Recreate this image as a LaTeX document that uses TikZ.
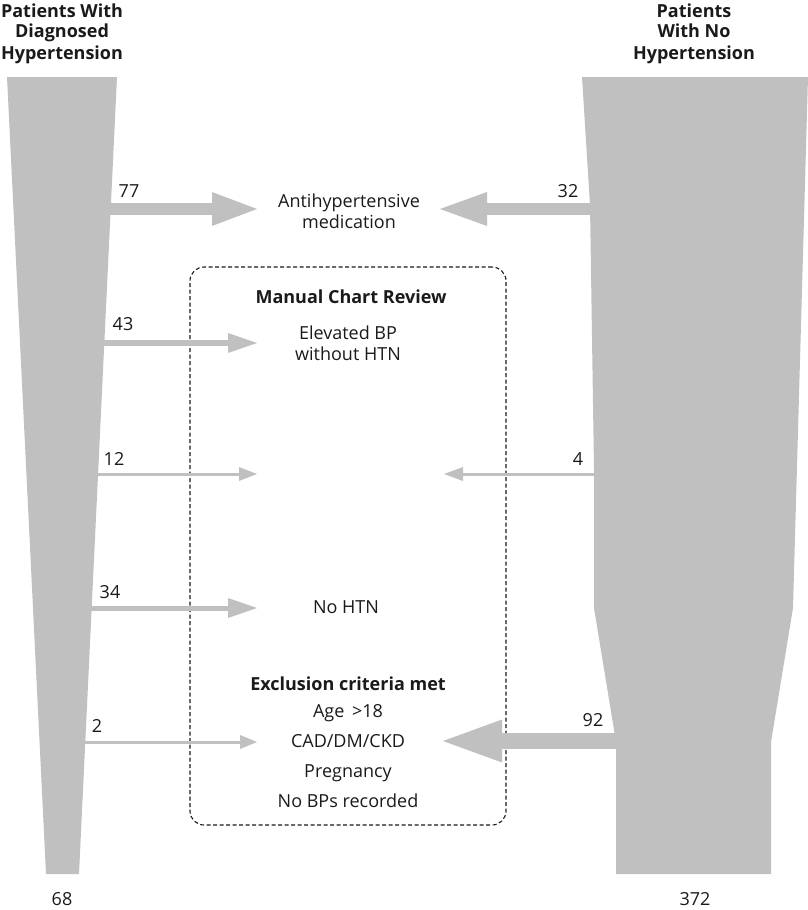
\documentclass[tikz,border=0pt]{standalone}
\usepackage{fontspec}
\setmainfont{Open Sans}
\usetikzlibrary{arrows.meta}
\definecolor{flow}{HTML}{C0C0C0}
\definecolor{ink}{HTML}{1A1A1A}
\tikzset{
  lbl/.style={font=\fontsize{18}{20.5}\selectfont, text=ink, inner sep=0pt, anchor=base, align=center},
  hd/.style={lbl, font=\fontsize{18}{21}\selectfont\bfseries},
  listlbl/.style={lbl, font=\fontsize{18}{29.7}\selectfont},
  flowbar/.style={fill=flow},
  flowarrow/.style n args={3}{draw=flow, line width=#1, line cap=butt,
    -{Triangle[length=#2, width=#3, line width=0pt]}},
  reviewbox/.style={draw=ink, line width=1.1pt, dash pattern=on 4pt off 2.5pt,
    rounded corners=14pt, minimum width=316pt, minimum height=558pt, inner sep=0pt}
}
\begin{document}
\begin{tikzpicture}[x=1pt,y=-1pt]
\useasboundingbox (0,0) rectangle (808,910);

% funnels
\fill[flowbar] (7,77) -- (117,77) -- (79,874) -- (46,874) -- cycle;
\fill[flowbar] (582,77) -- (808,77) -- (793,608) -- (771,742) -- (771,874)
  -- (616,874) -- (616,742) -- (594,608) -- (594,470) -- (590,205) -- cycle;

% headings (anchor = baseline of last line)
\node[hd] (lefthead) at (62,59) {Patients With\\Diagnosed\\Hypertension};
\node[hd] (righthead) at (694,59) {Patients\\With No\\Hypertension};

% review box
\node[reviewbox] (review) at (348,546) {};
\node[hd] (manual) at (351,303) {Manual Chart Review};

% outcome texts
\node[lbl] (anti) at (349,228) {Antihypertensive\\medication};
\node[lbl] (elev) at (348,360) {Elevated BP\\without HTN};
\node[lbl] (nohtn) at (346,613) {No HTN};
\node[hd] (excl) at (348,690) {Exclusion criteria met};
\node[listlbl] (crit) at (348,807) {Age \,>18\\CAD/DM/CKD\\Pregnancy\\No BPs recorded};

% flow numbers
\node[lbl] (n77) at (129,197) {77};
\node[lbl] (n32) at (568,197) {32};
\node[lbl] (n43) at (123,330) {43};
\node[lbl] (n12) at (114,465) {12};
\node[lbl] (n4) at (578,465) {4};
\node[lbl] (n34) at (110,598) {34};
\node[lbl] (n2) at (97,732) {2};
\node[lbl] (n92) at (593,726) {92};
\node[lbl] (n68) at (62,905) {68};
\node[lbl] (n372) at (695,905) {372};

% arrow end points
\coordinate (a77s) at (108,209);  \coordinate (a77e) at (257,209);
\coordinate (a32s) at (593,209);  \coordinate (a32e) at (440,209);
\coordinate (a43s) at (101,343);  \coordinate (a43e) at (257,343);
\coordinate (a12s) at (94,474);   \coordinate (a12e) at (257,474);
\coordinate (a4s) at (597,474);   \coordinate (a4e) at (444,474);
\coordinate (a34s) at (89,608);   \coordinate (a34e) at (257,608);
\coordinate (a2s) at (83,742);    \coordinate (a2e) at (257,742);
\coordinate (a92s) at (619,741);  \coordinate (a92e) at (443,741);

\draw[flowarrow={12pt}{45pt}{34pt}] (a77s) -- (a77e);
\draw[flowarrow={12pt}{47pt}{34pt}] (a32s) -- (a32e);
\draw[flowarrow={6pt}{29pt}{20pt}] (a43s) -- (a43e);
\draw[flowarrow={3pt}{18pt}{14pt}] (a12s) -- (a12e);
\draw[flowarrow={3pt}{19pt}{14pt}] (a4s) -- (a4e);
\draw[flowarrow={5pt}{29pt}{20pt}] (a34s) -- (a34e);
\draw[flowarrow={3pt}{17pt}{14pt}] (a2s) -- (a2e);
\draw[flowarrow={16pt}{59pt}{43pt}] (a92s) -- (a92e);
\end{tikzpicture}
\end{document}
